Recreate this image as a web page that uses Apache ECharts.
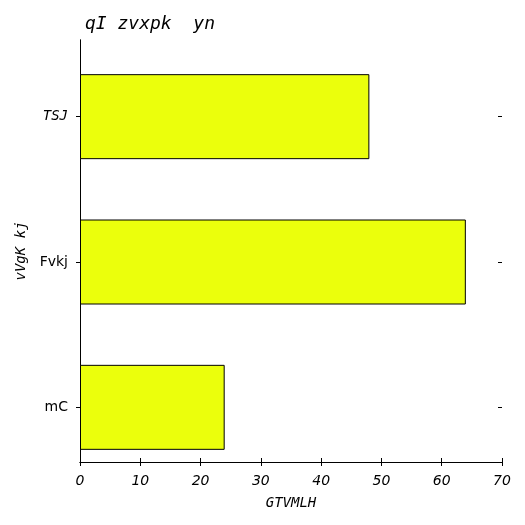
<!DOCTYPE html>
<html><head><meta charset="utf-8">
<script src="https://cdn.jsdelivr.net/npm/echarts@6/dist/echarts.min.js"></script>
<style>html,body{margin:0;padding:0;background:#fff}#c{width:525px;height:525px}</style>
</head><body><div id="c"></div>
<script>
var categories = ['mC', 'Fvkj', 'TSJ'];
var values = [24, 64, 48];
var xTicks = [0, 10, 20, 30, 40, 50, 60, 70];

var chart = echarts.init(document.getElementById('c'));
var mono = 'DejaVu Sans Mono';
var sans = 'DejaVu Sans';
var tick = { show: true, inside: true, length: 4, lineStyle: { color: '#000' } };
var line = { show: true, lineStyle: { color: '#000', width: 1 } };
chart.setOption({
    animation: false,
    title: {
        text: 'qI zvxpk  yn', left: 80, top: 10,
        textStyle: { fontFamily: mono, fontStyle: 'italic', fontWeight: 'normal', fontSize: 18, color: '#000' }
    },
    grid: [
        { left: 80, right: 23, top: 40, bottom: 63 },
        { left: 80, right: 23, top: 44, bottom: 45 }
    ],
    xAxis: [{
        gridIndex: 0, type: 'value', min: 0, max: 70, interval: 10,
        axisLine: line, axisTick: tick, splitLine: { show: false },
        axisLabel: { fontFamily: sans, fontStyle: 'italic', fontSize: 14, color: '#000', margin: 12 },
        name: 'GTVMLH', nameLocation: 'middle', nameGap: 34,
        nameTextStyle: { fontFamily: mono, fontStyle: 'italic', fontSize: 14, color: '#000' }
    }, {
        gridIndex: 0, type: 'value', position: 'top', min: 0, max: 70, interval: 10,
        axisLine: line, axisTick: tick, axisLabel: { show: false }, splitLine: { show: false }
    }, {
        gridIndex: 1, type: 'value', min: 0, max: 70, show: false
    }],
    yAxis: [{
        gridIndex: 0, type: 'value', min: 0, max: 1,
        axisLine: line, axisTick: { show: false }, axisLabel: { show: false }, splitLine: { show: false },
        name: 'vVgK kj', nameLocation: 'middle', nameGap: 52,
        nameTextStyle: { fontFamily: mono, fontStyle: 'italic', fontSize: 14, color: '#000' }
    }, {
        gridIndex: 0, type: 'value', min: 0, max: 1, position: 'right',
        axisLine: line, axisTick: { show: false }, axisLabel: { show: false }, splitLine: { show: false }
    }, {
        gridIndex: 1, type: 'category', data: categories,
        axisLine: { show: false }, axisTick: { show: true, inside: false, length: 4, alignWithLabel: true, lineStyle: { color: '#000' } },
        axisLabel: {
            margin: 12, color: '#000', fontSize: 14, fontFamily: sans,
            formatter: function (v) { return v === 'TSJ' ? '{m|' + v + '}' : v; },
            rich: { m: { fontFamily: mono, fontStyle: 'italic', fontSize: 14, color: '#000' } }
        }
    }, {
        gridIndex: 1, type: 'category', data: categories, position: 'right',
        axisLine: { show: false }, axisTick: { show: true, inside: true, length: 4, alignWithLabel: true, lineStyle: { color: '#000' } },
        axisLabel: { show: false }
    }],
    series: [{
        type: 'bar', xAxisIndex: 2, yAxisIndex: 2, data: values, barWidth: 85,
        itemStyle: { color: '#ebff0c', borderColor: '#000', borderWidth: 1 }
    }]
});
</script></body></html>
